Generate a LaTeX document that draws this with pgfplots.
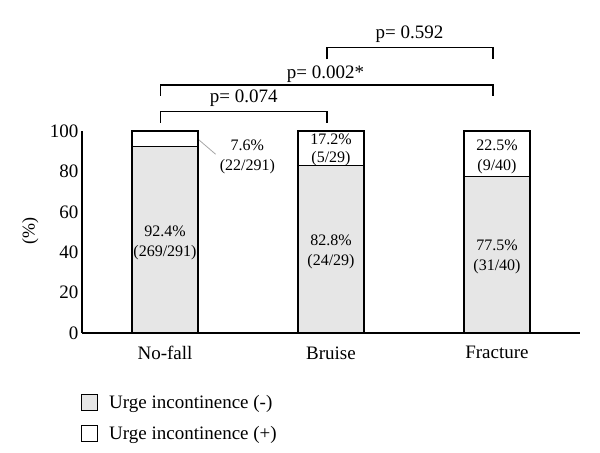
\documentclass[border=0pt]{standalone}
\usepackage{fontspec}
\setmainfont{Liberation Serif}
\usepackage{pgfplots}
\pgfplotsset{compat=1.18}
\definecolor{barfill}{HTML}{E6E6E6}
\pgfplotsset{boxlegend/.style={legend image code/.code={\draw[##1, line width=1bp] (0bp,-8bp) rectangle (16bp,8bp);}}}
\begin{document}
\begin{tikzpicture}
\begin{axis}[
  at={(0,0)}, anchor=south west,
  scale only axis, width=498bp, height=202bp,
  xmin=-0.5, xmax=2.5, ymin=0, ymax=100,
  axis lines=left, axis line style={-, line width=1.1bp},
  ybar stacked, bar width=66bp,
  xtick={0,1,2}, xticklabels={No-fall,Bruise,Fracture},
  ytick={0,20,40,60,80,100},
  major tick length=0pt,
  /pgf/number format/assume math mode=true,
  yticklabel style={font=\fontsize{19bp}{21bp}\selectfont},
  xticklabel style={font=\fontsize{19bp}{22bp}\selectfont, yshift=-10bp},
  ylabel={(\%)},
  ylabel style={font=\fontsize{18bp}{20bp}\selectfont, at={(axis description cs:-0.104,0.505)}, anchor=center},
  clip=false,
  legend cell align=left,
  legend style={at={(axis description cs:-0.002,-0.297)}, anchor=north west, draw=none, fill=none, inner sep=0pt,
    font=\fontsize{19bp}{22bp}\selectfont, row sep=12.6bp, column sep=9bp},
]
\addplot[fill=barfill, draw=black, line width=1.2bp, boxlegend]
  coordinates {(0,92.4) (1,82.8) (2,77.5)};
\addlegendentry{Urge incontinence (-)}
\addplot[fill=white, draw=black, line width=1.2bp, boxlegend]
  coordinates {(0,7.6) (1,17.2) (2,22.5)};
\addlegendentry{Urge incontinence (+)}

\coordinate (L1) at (axis cs:0,44.6);
\coordinate (L2) at (axis cs:1,40);
\coordinate (L3) at (axis cs:2,37.5);
\coordinate (U2) at (axis cs:1,90.6);
\coordinate (U3) at (axis cs:2,87.3);
\coordinate (U1) at (axis cs:0.496,87.3);
\draw[gray!70, line width=0.8bp] (axis cs:0.2,95.9) -- (axis cs:0.305,88.5);

% significance brackets
\draw[line width=1.3bp] (axis cs:-0.025,104) -- (axis cs:-0.025,109.6) -- (axis cs:0.975,109.6) -- (axis cs:0.975,104);
\draw[line width=1.3bp] (axis cs:-0.025,117.5) -- (axis cs:-0.025,122.8) -- (axis cs:1.975,122.8) -- (axis cs:1.975,117.5);
\draw[line width=1.3bp] (axis cs:0.975,135.5) -- (axis cs:0.975,141.2) -- (axis cs:1.975,141.2) -- (axis cs:1.975,135.5);
\node[anchor=base, font=\fontsize{19bp}{22bp}\selectfont] at (axis cs:0.475,113.9) {p= 0.074};
\node[anchor=base, font=\fontsize{19bp}{22bp}\selectfont] at (axis cs:0.967,126) {p= 0.002*};
\node[anchor=base, font=\fontsize{19bp}{22bp}\selectfont] at (axis cs:1.473,145.9) {p= 0.592};
\end{axis}
\tikzset{barlab/.style={align=center, font=\fontsize{16bp}{20bp}\selectfont}}
\node[barlab] at (L1) {92.4\%\\(269/291)};
\node[barlab] at (L2) {82.8\%\\(24/29)};
\node[barlab] at (L3) {77.5\%\\(31/40)};
\node[barlab, font=\fontsize{16bp}{18bp}\selectfont] at (U2) {17.2\%\\(5/29)};
\node[barlab] at (U3) {22.5\%\\(9/40)};
\node[barlab] at (U1) {7.6\%\\(22/291)};
\pgfresetboundingbox
\path[use as bounding box] (-82bp,-120bp) rectangle (518bp,333bp);
\end{tikzpicture}
\end{document}
